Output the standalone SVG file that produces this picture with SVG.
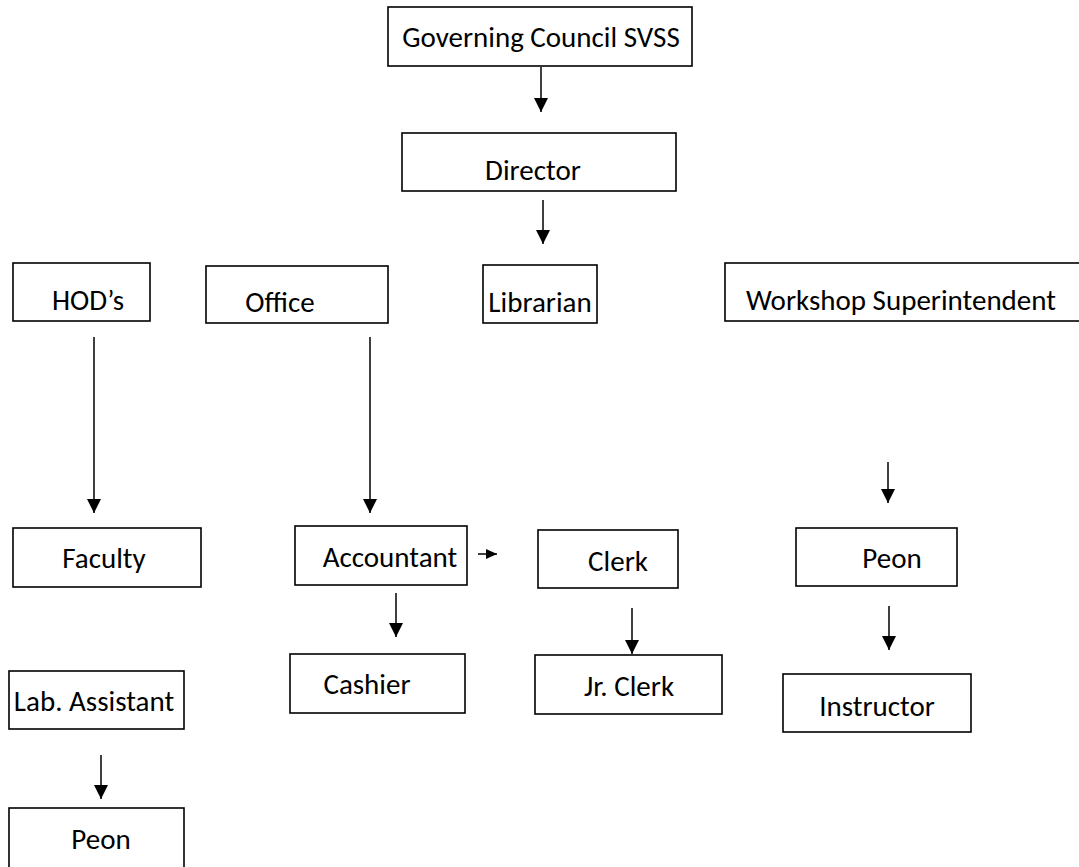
<svg xmlns="http://www.w3.org/2000/svg" width="1079" height="867" viewBox="0 0 1079 867">
<style>
.box{fill:#fff;stroke:#000;stroke-width:1.6}
.lbl{font-family:Carlito,Calibri,Lato,"Open Sans",sans-serif;font-size:29px;fill:#000;text-anchor:middle}
.con{stroke:#000;stroke-width:1.5;fill:none}
</style>
<defs>
<marker id="ah" markerUnits="userSpaceOnUse" markerWidth="14" markerHeight="15" refX="14" refY="7" orient="auto">
<path d="M0,0 L14,7 L0,14 Z" fill="#000"/>
</marker>
<marker id="ahs" markerUnits="userSpaceOnUse" markerWidth="11" markerHeight="10" refX="11" refY="5" orient="auto">
<path d="M0,0 L11,5 L0,10 Z" fill="#000"/>
</marker>
</defs>
<rect width="1079" height="867" fill="#fff"/>
<g id="n-gov"><rect class="box" x="388" y="7" width="304" height="59"/><text class="lbl" x="541" y="47">Governing Council SVSS</text></g>
<g id="n-director"><rect class="box" x="402" y="133" width="274" height="58"/><text class="lbl" x="533" y="180">Director</text></g>
<g id="n-hod"><rect class="box" x="13" y="263" width="137" height="58"/><text class="lbl" x="88" y="310">HOD’s</text></g>
<g id="n-office"><rect class="box" x="206" y="266" width="182" height="57"/><text class="lbl" x="280" y="312">Office</text></g>
<g id="n-librarian"><rect class="box" x="483" y="265" width="114" height="58"/><text class="lbl" x="540" y="312">Librarian</text></g>
<g id="n-workshop"><rect class="box" x="725" y="263" width="360" height="58"/><text class="lbl" x="901" y="310">Workshop Superintendent</text></g>
<g id="n-faculty"><rect class="box" x="13" y="528" width="188" height="59"/><text class="lbl" x="104" y="568">Faculty</text></g>
<g id="n-accountant"><rect class="box" x="295" y="526" width="172" height="59"/><text class="lbl" x="390" y="567">Accountant</text></g>
<g id="n-clerk"><rect class="box" x="538" y="530" width="140" height="58"/><text class="lbl" x="618" y="571">Clerk</text></g>
<g id="n-peon1"><rect class="box" x="796" y="528" width="161" height="58"/><text class="lbl" x="892" y="568">Peon</text></g>
<g id="n-cashier"><rect class="box" x="290" y="654" width="175" height="59"/><text class="lbl" x="367" y="694">Cashier</text></g>
<g id="n-jrclerk"><rect class="box" x="535" y="655" width="187" height="59"/><text class="lbl" x="629" y="696">Jr. Clerk</text></g>
<g id="n-instructor"><rect class="box" x="783" y="674" width="188" height="58"/><text class="lbl" x="877" y="716">Instructor</text></g>
<g id="n-labasst"><rect class="box" x="9" y="671" width="175" height="58"/><text class="lbl" x="94" y="711">Lab. Assistant</text></g>
<g id="n-peon2"><rect class="box" x="9" y="808" width="175" height="62"/><text class="lbl" x="101" y="849">Peon</text></g>
<g id="connectors">
<line class="con" x1="541" y1="67" x2="541" y2="112" marker-end="url(#ah)"/>
<line class="con" x1="543" y1="200" x2="543" y2="244" marker-end="url(#ah)"/>
<line class="con" x1="94" y1="337" x2="94" y2="513" marker-end="url(#ah)"/>
<line class="con" x1="370" y1="337" x2="370" y2="513" marker-end="url(#ah)"/>
<line class="con" x1="478" y1="554" x2="497" y2="554" marker-end="url(#ahs)"/>
<line class="con" x1="888" y1="462" x2="888" y2="503" marker-end="url(#ah)"/>
<line class="con" x1="889" y1="606" x2="889" y2="650" marker-end="url(#ah)"/>
<line class="con" x1="396" y1="593" x2="396" y2="637" marker-end="url(#ah)"/>
<line class="con" x1="632" y1="608" x2="632" y2="654" marker-end="url(#ah)"/>
<line class="con" x1="101" y1="755" x2="101" y2="799" marker-end="url(#ah)"/>
</g>
</svg>
